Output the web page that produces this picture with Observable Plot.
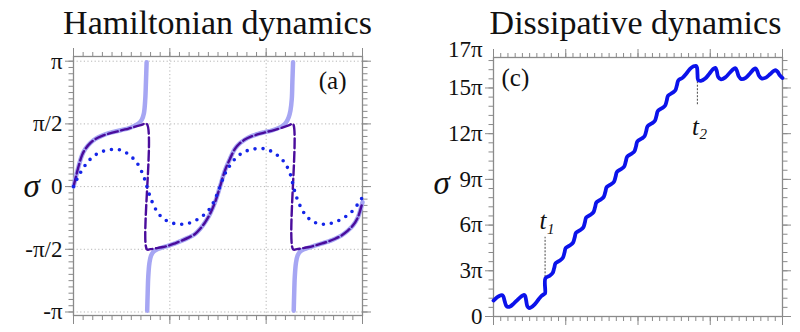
<!DOCTYPE html>
<html><head><meta charset="utf-8">
<script src="https://cdn.jsdelivr.net/npm/d3@7"></script>
<script src="https://cdn.jsdelivr.net/npm/@observablehq/plot@0.6"></script>
<style>
body{margin:0;background:#fff;}
#fig{position:relative;width:800px;height:332px;overflow:hidden;font-family:'Liberation Serif','Times New Roman',serif;}
.title{position:absolute;top:6px;width:400px;text-align:center;font-size:34px;line-height:34px;color:#111;white-space:nowrap;}
.panel{position:absolute;top:40px;}
</style></head><body>
<div id="fig">
 <div class="title" style="left:17.5px">Hamiltonian dynamics</div>
 <div class="title" style="left:435.5px">Dissipative dynamics</div>
 <div class="panel" id="left" style="left:0"></div>
 <div class="panel" id="right" style="left:400px"></div>
</div>
<script>
// ---------- Panel (a): Hamiltonian dynamics, sigma in units of pi ----------
const hamSolidA = [[0,0],[0.028,0.088],[0.055,0.168],[0.090,0.253],[0.124,0.301],[0.176,0.348],[0.228,0.380],[0.297,0.407],[0.366,0.426],[0.434,0.439],[0.503,0.452],[0.572,0.465],[0.641,0.487],[0.683,0.508],[0.710,0.535],[0.731,0.585],[0.745,0.699],[0.752,0.832],[0.759,0.992]];
const hamSolidB = [[0.765,-0.99],[0.770,-0.85],[0.776,-0.72],[0.788,-0.61],[0.805,-0.55],[0.83,-0.52],[0.86,-0.503],[0.917,-0.487],[0.986,-0.471],[1.055,-0.452],[1.124,-0.431],[1.193,-0.407],[1.262,-0.378],[1.314,-0.338],[1.366,-0.285],[1.417,-0.218],[1.469,-0.125],[1.521,0],[1.572,0.128],[1.624,0.221],[1.676,0.301],[1.728,0.346],[1.779,0.375],[1.848,0.402],[1.917,0.420],[1.986,0.434],[2.055,0.447],[2.124,0.465],[2.176,0.487],[2.210,0.515],[2.234,0.553],[2.252,0.606],[2.266,0.699],[2.272,0.832],[2.279,0.992]];
const hamSolidC = [[2.286,-0.99],[2.291,-0.85],[2.297,-0.72],[2.309,-0.61],[2.326,-0.55],[2.351,-0.52],[2.381,-0.503],[2.434,-0.489],[2.503,-0.471],[2.572,-0.455],[2.641,-0.439],[2.710,-0.418],[2.779,-0.391],[2.848,-0.351],[2.900,-0.311],[2.952,-0.245],[3.0,-0.125]];
const hamDashed = [[0,0],[0.028,0.088],[0.055,0.168],[0.090,0.253],[0.124,0.301],[0.176,0.348],[0.228,0.380],[0.297,0.405],[0.366,0.422],[0.434,0.436],[0.503,0.450],[0.572,0.463],[0.641,0.478],[0.700,0.490],[0.760,0.5],[0.762,-0.5],[0.80,-0.499],[0.848,-0.493],[0.917,-0.484],[0.986,-0.471],[1.055,-0.452],[1.124,-0.431],[1.193,-0.407],[1.262,-0.378],[1.314,-0.338],[1.366,-0.285],[1.417,-0.218],[1.469,-0.125],[1.521,0],[1.572,0.128],[1.624,0.221],[1.676,0.301],[1.728,0.346],[1.779,0.375],[1.848,0.400],[1.917,0.418],[1.986,0.432],[2.055,0.445],[2.124,0.460],[2.190,0.477],[2.240,0.490],[2.278,0.5],[2.280,-0.5],[2.32,-0.499],[2.366,-0.493],[2.434,-0.484],[2.503,-0.471],[2.572,-0.455],[2.641,-0.439],[2.710,-0.418],[2.779,-0.391],[2.848,-0.351],[2.900,-0.311],[2.952,-0.245],[3.0,-0.125]];
const hamDotted = [[0,0],[0.055,0.088],[0.107,0.154],[0.159,0.207],[0.228,0.253],[0.297,0.279],[0.383,0.295],[0.469,0.295],[0.538,0.274],[0.607,0.234],[0.659,0.189],[0.703,0.128],[0.738,0.061],[0.762,0],[0.786,-0.059],[0.821,-0.130],[0.866,-0.197],[0.917,-0.245],[0.986,-0.279],[1.072,-0.298],[1.159,-0.298],[1.245,-0.279],[1.331,-0.239],[1.400,-0.191],[1.462,-0.112],[1.521,0],[1.572,0.101],[1.624,0.168],[1.693,0.234],[1.779,0.279],[1.883,0.301],[1.986,0.301],[2.072,0.274],[2.159,0.221],[2.210,0.168],[2.255,0.088],[2.283,0],[2.310,-0.072],[2.348,-0.146],[2.400,-0.218],[2.469,-0.271],[2.555,-0.298],[2.641,-0.298],[2.728,-0.279],[2.814,-0.245],[2.900,-0.191],[2.969,-0.120],[3.0,-0.085]];
const hamTickVals = [-1,-0.5,0,0.5,1];
const hamTickLabels = ["-π","-π/2","0","π/2","π"];
const hamXMajor = [0,1,2,3];
const hamGridX = [1,2];

// ---------- Panel (c): Dissipative dynamics, sigma in units of pi ----------
const dissCurve = [[0,1.05],[0.04,1.22],[0.08,1.35],[0.115,1.40],[0.135,1.33],[0.155,1.0],[0.175,0.72],[0.2,0.63],[0.23,0.66],[0.28,0.85],[0.33,1.08],[0.38,1.3],[0.415,1.41],[0.435,1.38],[0.452,1.05],[0.468,0.68],[0.49,0.56],[0.52,0.6],[0.57,0.8],[0.62,1.1],[0.665,1.35],[0.70,1.47],[0.714,1.52],
 [0.718,2.5],[0.778,2.68],[0.818,2.85],[0.840,3.18],
 [0.860,3.5],[0.920,3.68],[0.960,3.85],[0.982,4.18],
 [1.001,4.5],[1.061,4.68],[1.101,4.85],[1.123,5.18],
 [1.143,5.5],[1.203,5.68],[1.243,5.85],[1.265,6.18],
 [1.284,6.5],[1.344,6.68],[1.384,6.85],[1.406,7.18],
 [1.426,7.5],[1.486,7.68],[1.526,7.85],[1.548,8.18],
 [1.568,8.5],[1.628,8.68],[1.668,8.85],[1.690,9.18],
 [1.709,9.5],[1.769,9.68],[1.809,9.85],[1.831,10.18],
 [1.851,10.5],[1.911,10.68],[1.951,10.85],[1.973,11.18],
 [1.992,11.5],[2.052,11.68],[2.092,11.85],[2.114,12.18],
 [2.134,12.5],[2.194,12.68],[2.234,12.85],[2.256,13.18],
 [2.276,13.5],[2.336,13.68],[2.376,13.85],[2.398,14.18],
 [2.417,14.5],[2.477,14.68],[2.517,14.85],[2.539,15.18],
 [2.559,15.5],[2.619,15.68],[2.67,15.95],[2.72,16.25],[2.77,16.42],[2.805,16.45],[2.818,16.3],[2.824,15.85],[2.832,15.52],
 [2.87,15.47],[2.93,15.62],[2.99,15.95],[3.04,16.25],[3.07,16.32],[3.09,16.12],[3.11,15.72],[3.15,15.56],[3.21,15.7],[3.27,16.0],[3.32,16.24],[3.35,16.3],[3.37,16.12],[3.395,15.76],[3.43,15.58],[3.49,15.66],[3.55,15.95],[3.6,16.22],[3.63,16.28],[3.65,16.12],[3.675,15.8],[3.71,15.63],[3.77,15.68],[3.83,15.92],[3.88,16.12],[3.91,16.16],[3.935,16.05],[3.96,15.85],[3.99,15.7],[4.0,15.66]];
const dissTickVals = [0,3,6,9,12,15];
const dissTickLabels = ["0","3π","6π","9π","12π","15π"];
const dissTopTick = [17];
const dissTopLabel = ["17π"];
const dissXMajor = [0,1,2,3,4];
const markerT = [0.714, 2.822];
const markerFrom = [2.57, 13.9];
const markerTo = [5.2, 15.47];
const markerLabelS = [6.26, 12.47];
const markerSub = ["1","2"];

// ---------- helpers ----------
const pts = a => a.map(([t, s]) => ({t, s}));
const range = (a, b, step) => { const out = []; for (let v = a; v <= b + 1e-9; v += step) out.push(+v.toFixed(4)); return out; };
const FONT = "'Liberation Serif','Times New Roman',serif";
const AX = "#8a8a8a";

function frameAxes(xMajor, xMinor, yMajor, yMinor, fmt) {
  return [
    Plot.axisX(xMinor, {anchor: "bottom", tickSize: 5, tickFormat: () => "", stroke: AX, label: null}),
    Plot.axisX(xMajor, {anchor: "bottom", tickSize: 9, tickFormat: () => "", stroke: AX, label: null}),
    Plot.axisX(xMinor, {anchor: "top", tickSize: 5, tickFormat: () => "", stroke: AX, label: null}),
    Plot.axisX(xMajor, {anchor: "top", tickSize: 9, tickFormat: () => "", stroke: AX, label: null}),
    Plot.axisY(yMinor, {anchor: "left", tickSize: 4.5, tickFormat: () => "", stroke: AX, label: null}),
    Plot.axisY(yMajor, {anchor: "left", tickSize: 8, tickPadding: 3, tickFormat: fmt, stroke: AX, fill: "#111", fontSize: 23, label: null}),
    Plot.axisY(yMinor, {anchor: "right", tickSize: 4.5, tickFormat: () => "", stroke: AX, label: null}),
    Plot.axisY(yMajor, {anchor: "right", tickSize: 8, tickFormat: () => "", stroke: AX, label: null}),
    Plot.frame({stroke: AX, strokeWidth: 1.3})
  ];
}

const left = Plot.plot({
  width: 400, height: 292,
  marginLeft: 73, marginRight: 38, marginTop: 16, marginBottom: 17,
  style: {fontFamily: FONT, fontSize: "23px", background: "transparent", overflow: "visible"},
  x: {domain: [0, 3], axis: null},
  y: {domain: [-1.028, 1.0375], axis: null},
  marks: [
    Plot.gridY(hamTickVals, {stroke: "#b5b5b5", strokeOpacity: 1, strokeDasharray: "1.2 2.4"}),
    Plot.gridX(hamGridX, {stroke: "#b5b5b5", strokeOpacity: 1, strokeDasharray: "1.2 2.4"}),
    ...frameAxes(hamXMajor, range(0, 3, 0.1), hamTickVals, range(-1, 1, 0.05), d => hamTickLabels[hamTickVals.indexOf(d)]),
    Plot.line(pts(hamSolidA), {x: "t", y: "s", stroke: "#a6a6f3", strokeWidth: 4.5, curve: "catmull-rom"}),
    Plot.line(pts(hamSolidB), {x: "t", y: "s", stroke: "#a6a6f3", strokeWidth: 4.5, curve: "catmull-rom"}),
    Plot.line(pts(hamSolidC), {x: "t", y: "s", stroke: "#a6a6f3", strokeWidth: 4.5, curve: "catmull-rom"}),
    Plot.line(pts(hamDashed), {x: "t", y: "s", stroke: "#4a0c9c", strokeWidth: 2.4, strokeDasharray: "10 3.5", curve: "catmull-rom"}),
    Plot.line(pts(hamDotted), {x: "t", y: "s", stroke: "#1424e8", strokeWidth: 3.6, strokeDasharray: "0 8", strokeLinecap: "round", curve: "catmull-rom"}),
    Plot.text(["σ"], {frameAnchor: "left", dx: -50, fontStyle: "italic", fontSize: 33, fill: "#111"}),
    Plot.text(["(a)"], {frameAnchor: "top-right", dx: -16, dy: 24, textAnchor: "end", lineAnchor: "middle", fontSize: 25, fill: "#111"})
  ]
});
document.getElementById("left").appendChild(left);

const right = Plot.plot({
  width: 400, height: 292,
  marginLeft: 93, marginRight: 18, marginTop: 17, marginBottom: 16,
  style: {fontFamily: FONT, fontSize: "23px", background: "transparent", overflow: "visible"},
  x: {domain: [0, 4], axis: null},
  y: {domain: [0, 17], axis: null},
  marks: [
    ...frameAxes(dissXMajor, range(0, 4, 0.1), dissTickVals, range(0, 16.8, 0.6), d => dissTickLabels[dissTickVals.indexOf(d)]),
    Plot.text(dissTopTick, {y: d => d, frameAnchor: "left", text: (d, i) => dissTopLabel[i], textAnchor: "end", dx: -11, dy: -8, fontSize: 23, fill: "#111"}),
    Plot.ruleX(markerT, {x: d => d, y1: (d, i) => markerFrom[i], y2: (d, i) => markerTo[i], stroke: "#333", strokeWidth: 0.9, strokeDasharray: "2 1.5"}),
    Plot.line(pts(dissCurve), {x: "t", y: "s", stroke: "#0b12ea", strokeWidth: 3.8, curve: "catmull-rom"}),
    Plot.text(markerT, {x: d => d, y: (d, i) => markerLabelS[i], text: () => "t", dx: -2, fontStyle: "italic", fontSize: 25, lineAnchor: "middle", fill: "#111"}),
    Plot.text(markerT, {x: d => d, y: (d, i) => markerLabelS[i] - 0.5, text: (d, i) => markerSub[i], dx: 2, textAnchor: "start", fontStyle: "italic", fontSize: 15, lineAnchor: "middle", fill: "#111"}),
    Plot.text(["σ"], {frameAnchor: "left", dx: -60, dy: -4, fontStyle: "italic", fontSize: 33, fill: "#111"}),
    Plot.text(["(c)"], {frameAnchor: "top-left", dx: 8, dy: 20, textAnchor: "start", lineAnchor: "middle", fontSize: 25, fill: "#111"})
  ]
});
document.getElementById("right").appendChild(right);
</script>
</body></html>
